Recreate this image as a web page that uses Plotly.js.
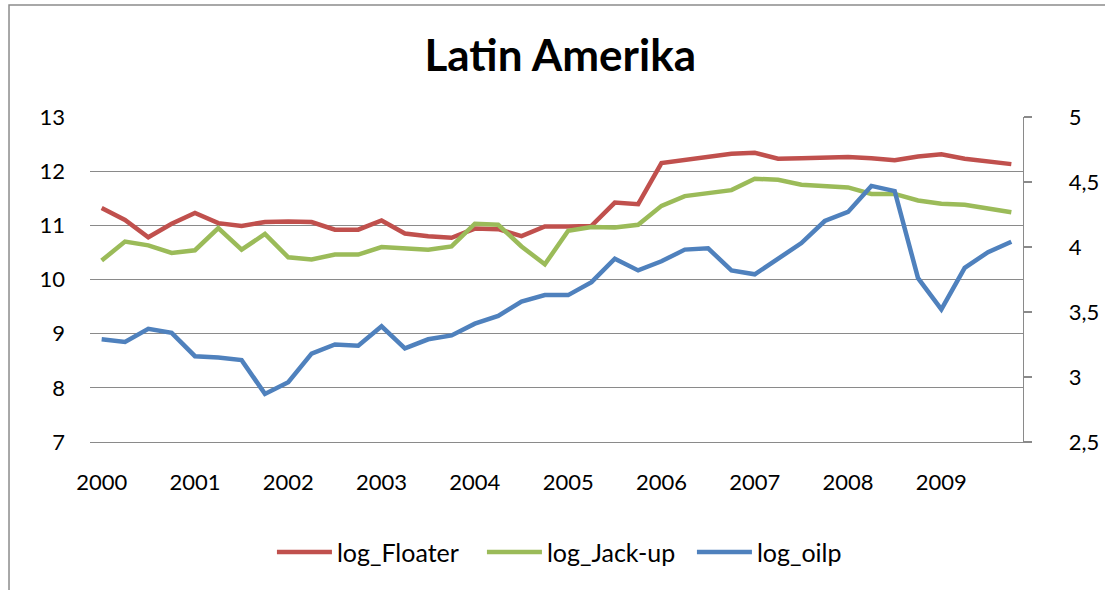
<!DOCTYPE html>
<html>
<head>
<meta charset="utf-8">
<script src="https://cdn.plot.ly/plotly-3.0.1.min.js"></script>
<style>
  html, body { margin: 0; padding: 0; background: #fff; }
  #chart { width: 1105px; height: 590px; }
</style>
</head>
<body>
<div id="chart"></div>
<script>
// Quarterly observations, 2000 Q1 – 2009 Q4
const quarterIndex = Array.from({length: 40}, (_, i) => i);
const yearTickPos = [0, 4, 8, 12, 16, 20, 24, 28, 32, 36];
const yearLabels = ['2000', '2001', '2002', '2003', '2004', '2005', '2006', '2007', '2008', '2009'];

const logFloater = [
  11.32, 11.10, 10.78, 11.03, 11.23, 11.04, 10.99, 11.06, 11.07, 11.06,
  10.92, 10.92, 11.09, 10.85, 10.80, 10.77, 10.94, 10.93, 10.80, 10.98,
  10.98, 10.99, 11.42, 11.39, 12.15, 12.21, 12.25, 12.32, 12.34, 12.23,
  12.24, 12.25, 12.26, 12.24, 12.20, 12.27, 12.31, 12.23, 12.18, 12.13
];

const logJackup = [
  10.35, 10.70, 10.63, 10.49, 10.54, 10.95, 10.55, 10.84, 10.41, 10.37,
  10.46, 10.46, 10.60, 10.57, 10.55, 10.61, 11.03, 11.01, 10.61, 10.28,
  10.90, 10.97, 10.96, 11.01, 11.36, 11.54, 11.59, 11.65, 11.86, 11.84,
  11.75, 11.73, 11.70, 11.58, 11.58, 11.46, 11.40, 11.38, 11.32, 11.24
];

const logOilp = [
  3.29, 3.27, 3.37, 3.34, 3.16, 3.15, 3.13, 2.87, 2.96, 3.18,
  3.25, 3.24, 3.39, 3.22, 3.29, 3.32, 3.41, 3.47, 3.58, 3.63,
  3.63, 3.73, 3.91, 3.82, 3.89, 3.98, 3.99, 3.82, 3.79, 3.91,
  4.03, 4.20, 4.27, 4.47, 4.43, 3.76, 3.52, 3.84, 3.96, 4.04
];

const FONT = 'Lato, "Open Sans", sans-serif';
const GRID = '#8a8a8a';

const traces = [
  { x: quarterIndex, y: logFloater, name: 'log_Floater', type: 'scatter', mode: 'lines',
    line: { color: '#C0504D', width: 4.5 }, yaxis: 'y' },
  { x: quarterIndex, y: logJackup, name: 'log_Jack-up', type: 'scatter', mode: 'lines',
    line: { color: '#9BBB59', width: 4.5 }, yaxis: 'y' },
  { x: quarterIndex, y: logOilp, name: 'log_oilp', type: 'scatter', mode: 'lines',
    line: { color: '#4F81BD', width: 4.5 }, yaxis: 'y2' }
];

const layout = {
  width: 1105,
  height: 590,
  margin: { l: 90, r: 82, t: 117, b: 148 },
  paper_bgcolor: '#ffffff',
  plot_bgcolor: '#ffffff',
  separators: ', ',
  font: { family: FONT, size: 22, color: '#000' },
  title: {
    text: '<b>Latin Amerika</b>',
    font: { family: FONT, size: 44, color: '#000' },
    x: 0.507, xref: 'container', xanchor: 'center',
    y: 0.905, yref: 'container', yanchor: 'middle'
  },
  xaxis: {
    range: [-0.5, 39.5],
    tickmode: 'array',
    tickvals: yearTickPos,
    ticktext: yearLabels,
    showgrid: false,
    zeroline: false,
    showline: true,
    linecolor: GRID,
    linewidth: 1.3,
    ticks: '',
    ticklabelstandoff: 20,
    tickfont: { family: FONT, size: 22 }
  },
  yaxis: {
    range: [7, 13],
    dtick: 1,
    showgrid: true,
    gridcolor: GRID,
    gridwidth: 1.3,
    zeroline: false,
    showline: false,
    ticks: '',
    ticklabelstandoff: 24,
    tickfont: { family: FONT, size: 22 }
  },
  yaxis2: {
    range: [2.5, 5],
    dtick: 0.5,
    overlaying: 'y',
    side: 'right',
    showgrid: false,
    zeroline: false,
    showline: true,
    linecolor: GRID,
    linewidth: 1.3,
    ticks: 'outside',
    ticklen: 8,
    tickwidth: 1.3,
    tickcolor: GRID,
    ticklabelstandoff: 32,
    tickfont: { family: FONT, size: 22 }
  },
  showlegend: true,
  legend: {
    orientation: 'h',
    x: 0.195, xref: 'paper', xanchor: 'left',
    y: -0.339, yref: 'paper', yanchor: 'middle',
    font: { family: FONT, size: 25 },
    itemwidth: 55,
    entrywidth: 140,
    entrywidthmode: 'pixels',
    traceorder: 'normal',
    bgcolor: 'rgba(0,0,0,0)'
  },
  shapes: [
    // outer chart frame (left and top edges)
    { type: 'path', xref: 'paper', yref: 'paper',
      path: 'M -0.0868,-0.6 L -0.0868,1.3443 L 1.2,1.3443',
      line: { color: '#8c8c8c', width: 1.5 } }
  ]
};

Plotly.newPlot('chart', traces, layout, { displayModeBar: false, staticPlot: true });
</script>
</body>
</html>
